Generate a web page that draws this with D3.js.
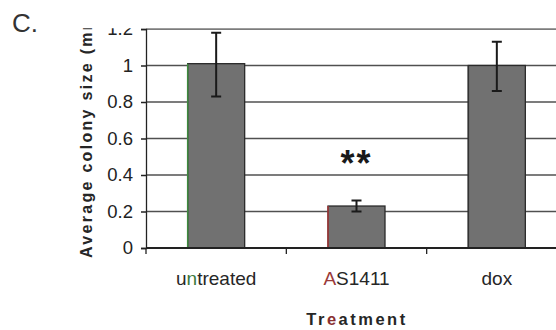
<!DOCTYPE html>
<html>
<head>
<meta charset="utf-8">
<script src="https://cdn.jsdelivr.net/npm/d3@7"></script>
<style>
  body { margin: 0; background: #fff; }
  svg { display: block; font-family: Arial, "Liberation Sans", sans-serif; }
</style>
</head>
<body>
<svg id="chart" width="556" height="330"></svg>
<script>
// values
const treatments = ["untreated", "AS1411", "dox"];
const colonySize = [1.01, 0.23, 1.0];
const errLow = [0.83, 0.20, 0.86];
const errHigh = [1.18, 0.26, 1.13];
const yTicks = [0, 0.2, 0.4, 0.6, 0.8, 1, 1.2];
const edgeTint = ["#3d8a3d", "#a83a3a", "#333"];

const svg = d3.select("#chart");

let x = d3.scaleBand()
    .domain(treatments)
    .range([146, 567])
    .paddingInner(0)
    .paddingOuter(0);

let y = d3.scaleLinear()
    .domain([0, 1.2])
    .range([248, 29]);

// original chart was cropped at the top
svg.append("clipPath").attr("id", "crop")
    .append("rect").attr("x", 0).attr("y", 28.3).attr("width", 556).attr("height", 303);

let g = svg.append("g").attr("clip-path", "url(#crop)");

// gridlines
g.append("g").selectAll("line")
    .data(yTicks.filter(d => d > 0))
    .join("line")
    .attr("x1", 146).attr("x2", 556)
    .attr("y1", d => y(d)).attr("y2", d => y(d))
    .attr("stroke", "#505050").attr("stroke-width", 1.4);

// y axis
let yAxis = d3.axisLeft(y).tickValues(yTicks).tickSize(5).tickPadding(8)
    .tickFormat(d => d3.format("")(d));
g.append("g")
    .attr("transform", "translate(146,0)")
    .call(yAxis)
    .call(s => s.select(".domain").attr("stroke", "#222").attr("stroke-width", 1.3))
    .call(s => s.selectAll(".tick line").attr("stroke", "#222").attr("stroke-width", 1.3))
    .call(s => s.selectAll("text").attr("font-size", 18.5).attr("fill", "#222")
        .attr("font-family", "Arial, 'Liberation Sans', sans-serif"));

// bars
let bw = 57;
g.append("g").selectAll("rect")
    .data(treatments)
    .join("rect")
    .attr("x", d => x(d) + x.bandwidth() / 2 - bw / 2)
    .attr("y", (d, i) => y(colonySize[i]))
    .attr("width", bw)
    .attr("height", (d, i) => y(0) - y(colonySize[i]))
    .attr("fill", "#717171")
    .attr("stroke", "#2a2a2a").attr("stroke-width", 1.3);

// tinted left edges (as in the scan)
g.append("g").selectAll("line")
    .data(treatments)
    .join("line")
    .attr("x1", d => x(d) + x.bandwidth() / 2 - bw / 2)
    .attr("x2", d => x(d) + x.bandwidth() / 2 - bw / 2)
    .attr("y1", (d, i) => y(colonySize[i]))
    .attr("y2", y(0))
    .attr("stroke", (d, i) => edgeTint[i]).attr("stroke-width", 1.5);

// x axis
let xAxis = d3.axisBottom(x).tickSize(6).tickFormat("");
g.append("g")
    .attr("transform", "translate(0,248)")
    .call(xAxis)
    .call(s => s.select(".domain").attr("stroke", "#222").attr("stroke-width", 2)
        .attr("d", "M146,0H556"))
    .call(s => s.selectAll(".tick").attr("transform", d => "translate(" + x(d) + ",0)"))
    .call(s => s.selectAll(".tick line").attr("stroke", "#222").attr("stroke-width", 1.3));

// error bars
let eb = g.append("g").attr("stroke", "#1a1a1a").attr("stroke-width", 2);
treatments.forEach((t, i) => {
    let cx = x(t) + x.bandwidth() / 2;
    eb.append("line").attr("x1", cx).attr("x2", cx).attr("y1", y(errLow[i])).attr("y2", y(errHigh[i]));
    eb.append("line").attr("x1", cx - 5).attr("x2", cx + 5).attr("y1", y(errLow[i])).attr("y2", y(errLow[i]));
    eb.append("line").attr("x1", cx - 5).attr("x2", cx + 5).attr("y1", y(errHigh[i])).attr("y2", y(errHigh[i]));
});

// category labels
let labels = g.append("g").selectAll("text")
    .data(treatments)
    .join("text")
    .attr("x", d => x(d) + x.bandwidth() / 2)
    .attr("y", 285)
    .attr("text-anchor", "middle")
    .attr("font-size", 19)
    .attr("fill", "#262626");
labels.each(function(d, i) {
    let t = d3.select(this);
    if (i === 0) {
        t.append("tspan").text("u");
        t.append("tspan").attr("fill", "#3d7a3d").text("n");
        t.append("tspan").text(d.slice(2));
    } else if (i === 1) {
        t.append("tspan").attr("fill", "#9a3a3a").text("A");
        t.append("tspan").text(d.slice(1));
    } else {
        t.text(d);
    }
});

// significance marker
g.append("text")
    .attr("x", x("AS1411") + x.bandwidth() / 2)
    .attr("y", 176)
    .attr("text-anchor", "middle")
    .attr("font-size", 36).attr("font-weight", "bold")
    .attr("letter-spacing", 2)
    .attr("fill", "#1a1a1a")
    .text("**");

// axis titles
let xt = g.append("text")
    .attr("x", 357).attr("y", 325)
    .attr("text-anchor", "middle")
    .attr("font-size", 16.5).attr("font-weight", "bold")
    .attr("letter-spacing", 2.5)
    .attr("fill", "#262626");
xt.append("tspan").text("Tr");
xt.append("tspan").attr("fill", "#8a3030").text("e");
xt.append("tspan").text("atment");

g.append("text")
    .attr("transform", "translate(92,258) rotate(-90)")
    .attr("text-anchor", "start")
    .attr("font-size", 16).attr("font-weight", "bold")
    .attr("letter-spacing", 2.3)
    .attr("fill", "#262626")
    .text("Average colony size (mm)");

// panel letter
svg.append("text")
    .attr("x", 12).attr("y", 32)
    .attr("font-size", 26)
    .attr("fill", "#333")
    .text("C.");
</script>
</body>
</html>
